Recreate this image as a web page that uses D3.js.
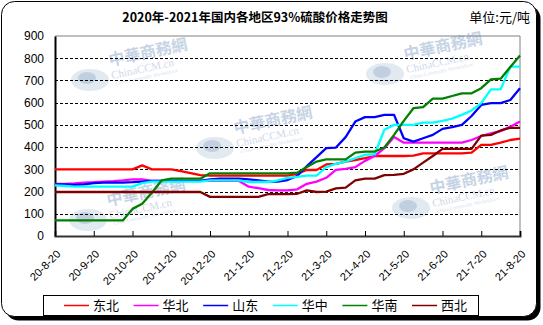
<!DOCTYPE html>
<html>
<head>
<meta charset="utf-8">
<script src="https://cdn.jsdelivr.net/npm/d3@7"></script>
<style>
  html, body { margin: 0; padding: 0; background: #fff; }
  svg { display: block; }
</style>
</head>
<body>
<svg id="chart" width="543" height="325"></svg>
<script>
// Month labels along the x axis (one every 4 readings)
const monthLabels = ["20-8-20","20-9-20","20-10-20","20-11-20","20-12-20","21-1-20",
  "21-2-20","21-3-20","21-4-20","21-5-20","21-6-20","21-7-20","21-8-20"];
const yTicks = [0,100,200,300,400,500,600,700,800,900];

const regions = ["东北","华北","山东","华中","华南","西北"];

// Prices, 元/吨, four readings per month
const dongbei = [300,300,300,300,300,300,300,300,300,318,300,300,300,292,283,274,272,
  272,272,272,272,272,272,272,272,280,297,297,322,325,335,342,350,360,360,360,360,362,
  372,372,372,372,372,375,410,410,420,432,438];
const huabei = [235,235,237,240,242,245,247,250,255,255,248,248,248,248,248,248,248,
  248,248,248,222,215,207,205,205,210,235,245,262,298,302,310,338,360,395,445,420,420,
  420,420,420,420,420,432,450,462,472,492,515];
const shandong = [232,232,230,232,238,240,240,240,242,245,248,248,248,248,248,248,255,
  258,258,258,255,250,245,245,252,270,315,355,395,398,445,515,535,535,545,545,440,425,
  440,455,482,490,500,540,590,598,598,612,665];
const huazhong = [228,225,222,222,222,222,222,222,222,238,245,245,245,245,245,245,250,
  250,250,250,243,243,243,250,262,266,272,272,310,325,335,350,365,368,478,500,500,500,
  510,510,518,528,545,565,598,660,660,762,762];
const huanan = [70,70,70,70,70,70,70,70,122,145,195,250,258,258,258,258,282,282,282,
  282,282,282,282,282,282,285,310,335,345,345,345,375,380,380,398,455,518,575,580,618,
  618,630,642,642,665,705,708,760,812];
const xibei = [198,198,198,198,198,198,198,198,198,198,198,198,198,198,198,198,176,
  176,176,176,176,176,188,188,188,190,205,198,200,214,218,250,258,258,274,275,280,300,
  330,360,392,392,392,392,452,455,475,487,487];

const seriesValues = [dongbei, huabei, shandong, huazhong, huanan, xibei];
const colors = ["#ff0000","#ff00ff","#0000ff","#00ffff","#008000","#800000"];

const svg = d3.select("#chart");
const plot = { left: 55, right: 520, top: 36, bottom: 236 };
const cjk = "'Noto Sans CJK SC', 'Noto Sans', sans-serif";
const latin = "'Liberation Sans', Arial, sans-serif";

// Frame with drop shadow
svg.append("rect").attr("x", 5.5).attr("y", 5.5).attr("width", 535).attr("height", 315)
  .attr("rx", 13).attr("fill", "#000");
svg.append("rect").attr("x", 1.5).attr("y", 1.5).attr("width", 535).attr("height", 315)
  .attr("rx", 13).attr("fill", "#fff").attr("stroke", "#000").attr("stroke-width", 1);

// Title and unit
svg.append("text").attr("x", 255).attr("y", 22).attr("text-anchor", "middle")
  .attr("font-family", cjk).attr("font-size", 12.5).attr("font-weight", "bold")
  .text("2020年-2021年国内各地区93%硫酸价格走势图");
svg.append("text").attr("x", 530).attr("y", 22).attr("text-anchor", "end")
  .attr("font-family", cjk).attr("font-size", 13)
  .text("单位:元/吨");

const n = dongbei.length;
const x = d3.scaleLinear().domain([0, n - 1]).range([plot.left, plot.right]);
const y = d3.scaleLinear().domain([0, 900]).range([plot.bottom, plot.top]);

// Watermarks
function watermark(gx, gy) {
  const g = svg.append("g").attr("opacity", 0.42);
  g.append("ellipse").attr("cx", gx).attr("cy", gy).attr("rx", 19).attr("ry", 11)
    .attr("fill", "#b9cbe0");
  g.append("ellipse").attr("cx", gx - 3).attr("cy", gy - 2).attr("rx", 9).attr("ry", 6)
    .attr("fill", "#6f8fb8");
  g.append("text").attr("transform", `translate(${gx + 20},${gy - 14}) rotate(-12)`)
    .attr("font-family", cjk).attr("font-size", 16).attr("font-weight", "bold")
    .attr("fill", "#7797c2").text("中華商務網");
  g.append("text").attr("transform", `translate(${gx + 22},${gy - 1}) rotate(-12)`)
    .attr("font-family", "'Liberation Serif', serif").attr("font-size", 11)
    .attr("fill", "#8aa6cb").text("ChinaCCM.cn");
  g.append("text").attr("transform", `translate(${gx + 26},${gy + 5}) rotate(-12)`)
    .attr("font-family", "'Liberation Serif', serif").attr("font-size", 5)
    .attr("fill", "#9bb3d3").text("China Commodity Marketplace");
}
[[90, 80], [215, 148], [385, 74], [88, 220], [411, 208]].forEach(p => watermark(p[0], p[1]));

// Plot border (top and right)
svg.append("path")
  .attr("d", `M${plot.left},${plot.top}H${plot.right}V${plot.bottom}`)
  .attr("fill", "none").attr("stroke", "#808080").attr("stroke-width", 1);

// Dashed gridlines
svg.append("g").selectAll("line").data(yTicks.filter(v => v > 0 && v < 900)).join("line")
  .attr("x1", plot.left).attr("x2", plot.right)
  .attr("y1", d => Math.round(y(d)) + 0.5).attr("y2", d => Math.round(y(d)) + 0.5)
  .attr("stroke", "#000").attr("stroke-width", 1).attr("stroke-dasharray", "3,2");

// Y axis
const yAxis = svg.append("g").attr("transform", `translate(${plot.left},0)`)
  .call(d3.axisLeft(y).tickValues(yTicks).tickSize(0).tickPadding(11).tickFormat(d3.format("d")));
yAxis.select(".domain").attr("stroke", "#000").attr("stroke-width", 2);
yAxis.selectAll("text").attr("font-family", latin).attr("font-size", 12).attr("fill", "#000");

// X axis, ticks pointing inward
const tickIdx = monthLabels.map((_, i) => i * 4);
const xAxis = svg.append("g").attr("transform", `translate(0,${plot.bottom})`)
  .call(d3.axisBottom(x).tickValues(tickIdx).tickSize(-5).tickFormat((d, i) => monthLabels[i]));
xAxis.select(".domain").attr("stroke", "#333").attr("stroke-width", 2);
xAxis.selectAll(".tick line").attr("stroke", "#000");
xAxis.selectAll("text")
  .attr("font-family", latin).attr("font-size", 11).attr("fill", "#000")
  .attr("text-anchor", "end")
  .attr("transform", "translate(3,16) rotate(-45)")
  .attr("dy", "0.35em").attr("x", 0).attr("y", 0);

// Series lines
const line = d3.line().x((d, i) => x(i)).y(d => y(d));
seriesValues.forEach((vals, k) => {
  svg.append("path").datum(vals).attr("d", line)
    .attr("fill", "none").attr("stroke", colors[k]).attr("stroke-width", 2.3)
    .attr("stroke-linejoin", "round");
});

// Legend
svg.append("rect").attr("x", 43.5).attr("y", 295.5).attr("width", 435).attr("height", 20)
  .attr("fill", "#fff").attr("stroke", "#000").attr("stroke-width", 1);
const legend = svg.append("g").selectAll("g").data(regions).join("g")
  .attr("transform", (d, i) => `translate(${64 + i * 69.6},305.5)`);
legend.append("line").attr("x1", 0).attr("x2", 25).attr("y1", 0).attr("y2", 0)
  .attr("stroke", (d, i) => colors[i]).attr("stroke-width", 1.5);
legend.append("text").attr("x", 29).attr("y", 0).attr("dy", "0.35em")
  .attr("font-family", cjk).attr("font-size", 13).text(d => d);
</script>
</body>
</html>
